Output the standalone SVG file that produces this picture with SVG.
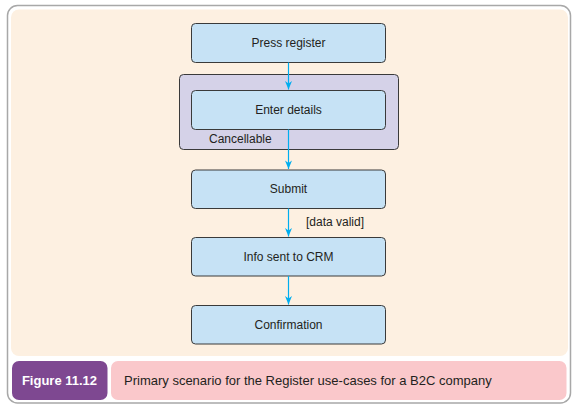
<svg xmlns="http://www.w3.org/2000/svg" width="579" height="409" viewBox="0 0 579 409">
<style>
.box{fill:#c6e2f5;stroke:#3a3a3a;stroke-width:1}
.t{font-family:"Liberation Sans",Arial,sans-serif;font-size:12px;fill:#231f20}
.c{stroke:#00aeef;stroke-width:1.2;fill:none}
</style>
<defs>
<marker id="ah" viewBox="0 0 12 10" refX="12" refY="5" markerWidth="11" markerHeight="7" markerUnits="userSpaceOnUse" orient="auto">
<path d="M0,0 L12,5 L0,10 L3.5,5 Z" fill="#00aeef"/>
</marker>
</defs>
<rect x="7.5" y="5.5" width="563" height="397.5" rx="10" fill="#fff" stroke="#a8a8a8" stroke-width="1.5"/>
<rect x="11" y="9.5" width="557" height="346.5" rx="8" fill="#fdf0e1"/>
<g id="container">
<rect x="179.5" y="74.5" width="219" height="75" rx="4" fill="#d5d2e8" stroke="#3a3a3a" stroke-width="1"/>
<text class="t" x="209" y="143">Cancellable</text>
</g>
<g id="press-register">
<rect class="box" x="191.5" y="23.5" width="194" height="39" rx="4"/>
<text class="t" x="288.5" y="47" text-anchor="middle">Press register</text>
</g>
<g id="enter-details">
<rect class="box" x="191.5" y="90.5" width="194" height="39" rx="4"/>
<text class="t" x="288.5" y="114" text-anchor="middle">Enter details</text>
</g>
<g id="submit">
<rect class="box" x="191.5" y="170" width="194" height="38.5" rx="4"/>
<text class="t" x="288.5" y="193" text-anchor="middle">Submit</text>
</g>
<g id="info-sent">
<rect class="box" x="191.5" y="237.5" width="194" height="38.5" rx="4"/>
<text class="t" x="288.5" y="261" text-anchor="middle">Info sent to CRM</text>
</g>
<g id="confirmation">
<rect class="box" x="191.5" y="305.5" width="194" height="38.5" rx="4"/>
<text class="t" x="288.5" y="329" text-anchor="middle">Confirmation</text>
</g>
<g id="connectors">
<line class="c" x1="288.5" y1="62.5" x2="288.5" y2="89.5" marker-end="url(#ah)"/>
<line class="c" x1="288.5" y1="129.5" x2="288.5" y2="169" marker-end="url(#ah)"/>
<line class="c" x1="288.5" y1="208.5" x2="288.5" y2="236.5" marker-end="url(#ah)"/>
<line class="c" x1="288.5" y1="276" x2="288.5" y2="304.5" marker-end="url(#ah)"/>
<text class="t" x="306" y="225.5">[data valid]</text>
</g>
<g id="caption">
<rect x="12" y="361" width="95.5" height="39" rx="7" fill="#7e4891"/>
<text x="59.5" y="385" text-anchor="middle" font-family="Liberation Sans,Arial,sans-serif" font-size="13" font-weight="bold" fill="#fff">Figure 11.12</text>
<rect x="111" y="361" width="455.5" height="39" rx="7" fill="#fac8cb"/>
<text x="124" y="385" font-family="Liberation Sans,Arial,sans-serif" font-size="13" fill="#231f20">Primary scenario for the Register use-cases for a B2C company</text>
</g>
</svg>
